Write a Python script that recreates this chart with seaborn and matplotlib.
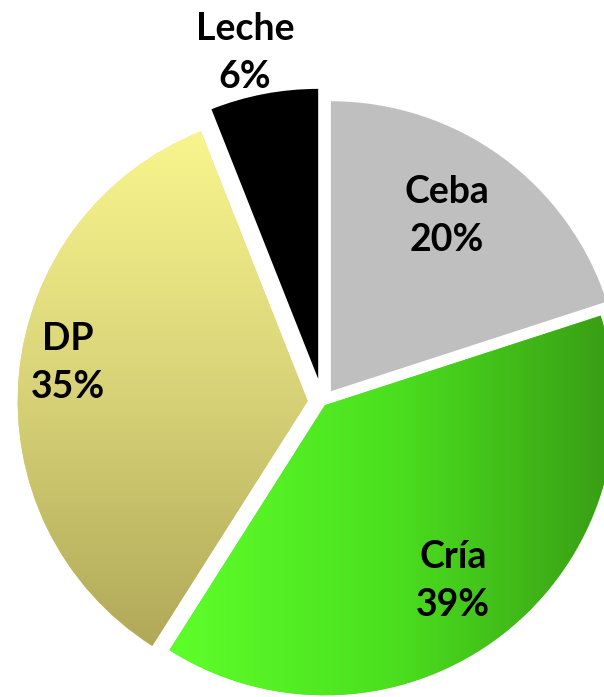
import numpy as np
import matplotlib
matplotlib.use("Agg")
import matplotlib.pyplot as plt
from matplotlib.colors import LinearSegmentedColormap
import seaborn as sns

# datos
labels = ["Ceba", "Cría", "DP", "Leche"]
shares = [20, 39, 35, 6]
explode = [0.048, 0.012, 0.052, 0.083]

sns.set_theme(style="white")
plt.rcParams['font.family'] = ['Lato', 'DejaVu Sans']

fig = plt.figure(figsize=(6.04, 6.97), dpi=100)
ax = fig.add_axes([0, 0, 1, 1])

wedges, _ = ax.pie(shares, explode=explode, startangle=90, counterclock=False,
                   colors=["#BFBFBF", "#4FE020", "#DCD67A", "#000000"],
                   wedgeprops=dict(linewidth=0))

# degradados (Cría horizontal, DP vertical)
grad = np.linspace(0, 1, 256)
cmap_cria = LinearSegmentedColormap.from_list("cria", ["#5EFF2A", "#4BDF1F", "#389A14"])
im = ax.imshow(grad[None, :], extent=(-0.53, 1.03, -1.05, 0.4), cmap=cmap_cria,
               aspect="auto", zorder=wedges[1].get_zorder() + 0.1)
im.set_clip_path(wedges[1])

cmap_dp = LinearSegmentedColormap.from_list("dp", ["#B0A858", "#D8D378", "#F9F68E"])
im2 = ax.imshow(grad[:, None], extent=(-1.1, -0.05, -0.85, 0.95), cmap=cmap_dp,
                aspect="auto", origin="lower", zorder=wedges[2].get_zorder() + 0.1)
im2.set_clip_path(wedges[2])

# etiquetas
label_pos = {"Ceba": (0.429, 0.642), "Cría": (0.449, -0.617),
             "DP": (-0.878, 0.135), "Leche": (-0.268, 1.204)}
for name, val in zip(labels, shares):
    x, y = label_pos[name]
    ax.text(x, y, f"{name}\n{val}%", ha="center", va="center", fontsize=27,
            fontweight="bold", color="black", linespacing=1.5, zorder=5)

ax.set_aspect("auto")
ax.set_xlim(-1.1128, 0.970)
ax.set_ylim(-1.0155, 1.388)
ax.axis("off")

fig.savefig("out.png", dpi=100)
